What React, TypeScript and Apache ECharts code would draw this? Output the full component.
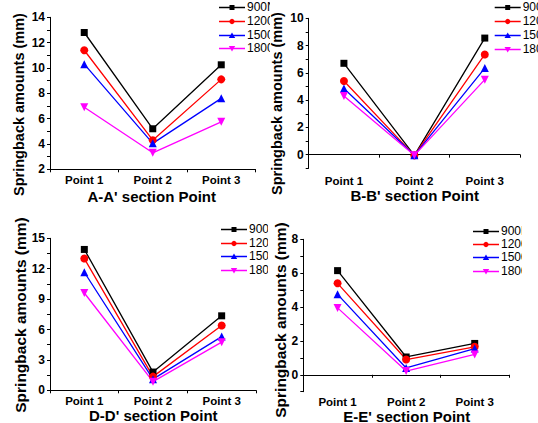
import React, { useEffect, useRef } from 'react';
import * as echarts from 'echarts';

const categories = ['Point 1', 'Point 2', 'Point 3'];
const seriesNames = ['900N', '1200N', '1500N', '1800N'];
const yTitle = 'Springback amounts (mm)';

const A900 = [12.8, 5.2, 10.25];
const A1200 = [11.4, 4.3, 9.1];
const A1500 = [10.3, 4.05, 7.6];
const A1800 = [6.9, 3.3, 5.75];

const B900 = [6.7, -0.05, 8.55];
const B1200 = [5.4, -0.05, 7.35];
const B1500 = [4.85, -0.05, 6.35];
const B1800 = [4.3, -0.05, 5.5];

const D900 = [13.9, 1.8, 7.35];
const D1200 = [13.0, 1.35, 6.4];
const D1500 = [11.65, 1.1, 5.3];
const D1800 = [9.6, 0.85, 4.75];

const E900 = [6.15, 1.05, 1.85];
const E1200 = [5.4, 0.9, 1.65];
const E1500 = [4.75, 0.4, 1.55];
const E1800 = [3.95, 0.22, 1.2];

const colors = ['#000000', '#ff0000', '#0000ff', '#ff00ff'];
const symbols = ['rect', 'circle', 'triangle', 'path://M0,0L10,0L5,9Z'];
const symbolSizes = [7, 8, 8, 8];
const FONT = 'Liberation Sans';

type PanelProps = {
  box: { left: number; top: number; width: number; height: number };
  grid: { left: number; top: number; right: number; bottom: number };
  legendPos: { x: number; y: number; step: number };
  xName: string;
  xNamePos: { x: number; y: number };
  xLabelMargin: number;
  yNamePos: { x: number; y: number };
  yNameSize: number;
  yMin: number;
  yMax: number;
  yStep: number;
  yLabelStep: number;
  data: number[][];
};

function legendMarker(i: number, cx: number, cy: number, color: string): any {
  if (i === 0) return { type: 'rect', z: 101, shape: { x: cx - 2.5, y: cy - 2.5, width: 5, height: 5 }, style: { fill: color } };
  if (i === 1) return { type: 'circle', z: 101, shape: { cx, cy, r: 2.6 }, style: { fill: color } };
  if (i === 2)
    return { type: 'polygon', z: 101, shape: { points: [[cx, cy - 3], [cx + 3.2, cy + 2.5], [cx - 3.2, cy + 2.5]] }, style: { fill: color } };
  return { type: 'polygon', z: 101, shape: { points: [[cx - 3.2, cy - 2.5], [cx + 3.2, cy - 2.5], [cx, cy + 3]] }, style: { fill: color } };
}

function Panel(p: PanelProps) {
  const ref = useRef<HTMLDivElement>(null);
  useEffect(() => {
    if (!ref.current) return;
    const chart = echarts.init(ref.current, undefined, { renderer: 'svg' });
    const els: any[] = [];
    seriesNames.forEach((n, i) => {
      const cy = Math.round(p.legendPos.y + i * p.legendPos.step);
      const x0 = p.legendPos.x;
      els.push({
        type: 'polyline',
        z: 100,
        shape: { points: [[x0, cy + 0.5], [x0 + 26, cy + 0.5]] },
        style: { stroke: colors[i], lineWidth: 1.5, fill: null },
      });
      els.push(legendMarker(i, x0 + 13, cy + 0.5, colors[i]));
      els.push({
        type: 'text',
        x: x0 + 28,
        y: cy,
        style: { text: n, fill: '#000', fontSize: 12, fontFamily: FONT, verticalAlign: 'middle', align: 'left' },
      });
    });
    els.push({
      type: 'text',
      x: p.yNamePos.x,
      y: p.yNamePos.y,
      rotation: Math.PI / 2,
      style: {
        text: yTitle,
        fill: '#000',
        fontSize: p.yNameSize,
        fontWeight: 'bold',
        fontFamily: FONT,
        align: 'center',
        verticalAlign: 'middle',
        lineHeight: p.yNameSize,
      },
    });
    els.push({
      type: 'text',
      x: p.xNamePos.x,
      y: p.xNamePos.y,
      style: {
        text: p.xName,
        fill: '#000',
        fontSize: 15,
        fontWeight: 'bold',
        fontFamily: FONT,
        align: 'center',
        verticalAlign: 'middle',
        lineHeight: 14,
      },
    });
    const option: any = {
      animation: false,
      textStyle: { fontFamily: FONT },
      grid: { ...p.grid, containLabel: false, outerBoundsMode: 'none' },
      graphic: els,
      xAxis: {
        type: 'category',
        data: categories,
        boundaryGap: true,
        axisLine: { lineStyle: { color: '#000', width: 1 } },
        axisTick: { show: true, length: 3, lineStyle: { color: '#000' } },
        axisLabel: { fontSize: 11.5, fontWeight: 'bold', color: '#000', margin: p.xLabelMargin, fontFamily: FONT },
        splitLine: { show: false },
      },
      yAxis: {
        type: 'value',
        min: p.yMin,
        max: p.yMax,
        interval: p.yStep,
        axisLine: { show: true, lineStyle: { color: '#000', width: 1 } },
        axisTick: { show: true, length: 3, lineStyle: { color: '#000' } },
        axisLabel: {
          fontSize: 12,
          fontWeight: 'bold',
          color: '#000',
          margin: 5,
          fontFamily: FONT,
          formatter: (v: number) => {
            const r = v / p.yLabelStep;
            return Math.abs(r - Math.round(r)) < 1e-6 ? String(Math.round(v)) : '';
          },
        },
        splitLine: { show: false },
      },
      series: seriesNames.map((n, i) => ({
        name: n,
        type: 'line',
        data: p.data[i],
        symbol: symbols[i],
        symbolSize: symbolSizes[i],
        showAllSymbol: true,
        itemStyle: { color: colors[i] },
        lineStyle: { color: colors[i], width: 1.3 },
      })),
    };
    chart.setOption(option);
    return () => chart.dispose();
  }, []);
  return (
    <div
      ref={ref}
      style={{ position: 'absolute', left: p.box.left, top: p.box.top, width: p.box.width, height: p.box.height, overflow: 'hidden' }}
    />
  );
}

export default function App() {
  return (
    <div style={{ position: 'absolute', left: 0, top: 0, width: 538, height: 423, background: '#fff' }}>
      <Panel
        box={{ left: 0, top: 0, width: 270, height: 210 }}
        grid={{ left: 50, top: 17.3, right: 14.5, bottom: 40.7 }}
        legendPos={{ x: 219, y: 7.3, step: 13.6 }}
        xName="A-A' section Point"
        xNamePos={{ x: 151.7, y: 196.5 }}
        xLabelMargin={5}
        yNamePos={{ x: 18.8, y: 104.5 }}
        yNameSize={14.5}
        yMin={2}
        yMax={14}
        yStep={1}
        yLabelStep={2}
        data={[A900, A1200, A1500, A1800]}
      />
      <Panel
        box={{ left: 265, top: 0, width: 273, height: 210 }}
        grid={{ left: 43.7, top: 18.3, right: 18, bottom: 41.7 }}
        legendPos={{ x: 229.7, y: 7.3, step: 13.9 }}
        xName="B-B' section Point"
        xNamePos={{ x: 149.7, y: 195 }}
        xLabelMargin={7}
        yNamePos={{ x: 11.5, y: 103.5 }}
        yNameSize={14.5}
        yMin={-1}
        yMax={10}
        yStep={1}
        yLabelStep={2}
        data={[B900, B1200, B1500, B1800]}
      />
      <Panel
        box={{ left: 0, top: 210, width: 268, height: 213 }}
        grid={{ left: 50, top: 28.3, right: 12, bottom: 32.7 }}
        legendPos={{ x: 221, y: 19.3, step: 13.5 }}
        xName="D-D' section Point"
        xNamePos={{ x: 153.3, y: 205.3 }}
        xLabelMargin={4.5}
        yNamePos={{ x: 20, y: 105 }}
        yNameSize={15.5}
        yMin={0}
        yMax={15}
        yStep={1.5}
        yLabelStep={3}
        data={[D900, D1200, D1500, D1800]}
      />
      <Panel
        box={{ left: 262, top: 210, width: 260, height: 213 }}
        grid={{ left: 41.3, top: 29.3, right: 13, bottom: 31.3 }}
        legendPos={{ x: 211, y: 20.7, step: 13.3 }}
        xName="E-E' section Point"
        xNamePos={{ x: 144.8, y: 206.3 }}
        xLabelMargin={4}
        yNamePos={{ x: 18, y: 110 }}
        yNameSize={15.5}
        yMin={-1}
        yMax={8}
        yStep={1}
        yLabelStep={2}
        data={[E900, E1200, E1500, E1800]}
      />
    </div>
  );
}
